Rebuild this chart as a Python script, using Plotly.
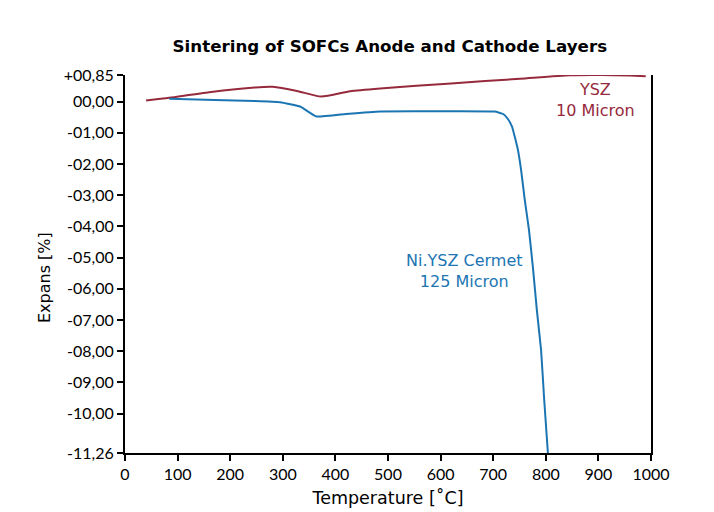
import plotly.graph_objects as go

# Dilatometer curves: temperature [°C] vs. expansion [%]
ysz_temp = [40, 84, 160, 247, 281, 327, 373, 428, 485, 620, 751, 846, 905, 960, 990]
ysz_expans = [0.03, 0.12, 0.30, 0.45, 0.47, 0.34, 0.16, 0.33, 0.42, 0.58, 0.73, 0.84, 0.85, 0.83, 0.81]

cermet_temp = [84, 170, 247, 295, 333, 364, 420, 485, 612, 703, 719, 728, 736, 741, 747,
               753, 760, 768, 776, 783, 791, 797, 804]
cermet_expans = [0.09, 0.05, 0.02, -0.02, -0.16, -0.48, -0.40, -0.32, -0.31, -0.32, -0.40,
                 -0.56, -0.81, -1.13, -1.55, -2.19, -3.15, -4.11, -5.40, -6.68, -7.96,
                 -9.56, -11.26]

y_tickvals = [0.85, 0, -1, -2, -3, -4, -5, -6, -7, -8, -9, -10, -11.26]
y_ticktext = ["+00,85", "00,00", "-01,00", "-02,00", "-03,00", "-04,00", "-05,00",
              "-06,00", "-07,00", "-08,00", "-09,00", "-10,00", "-11,26"]
x_tickvals = [0, 100, 200, 300, 400, 500, 600, 700, 800, 900, 1000]

red = "#962a3c"
blue = "#1b75b3"
tick_font = "Lato, 'Noto Sans', sans-serif"
label_font = "'DejaVu Sans', sans-serif"

fig = go.Figure()
fig.add_trace(go.Scatter(x=ysz_temp, y=ysz_expans, mode="lines",
                         line=dict(color=red, width=2, shape="spline", smoothing=0.6),
                         name="YSZ", showlegend=False))
fig.add_trace(go.Scatter(x=cermet_temp, y=cermet_expans, mode="lines",
                         line=dict(color=blue, width=2, shape="spline", smoothing=0.3),
                         name="Ni.YSZ Cermet", showlegend=False))

fig.add_annotation(x=895, y=0.05, text="YSZ<br>10 Micron", showarrow=False,
                   font=dict(color=red, size=16, family=label_font), align="center")
fig.add_annotation(x=646, y=-5.42, text="Ni.YSZ Cermet<br>125 Micron", showarrow=False,
                   font=dict(color=blue, size=16, family=label_font), align="center")

# y-axis title placed as a paper annotation
fig.add_annotation(xref="paper", yref="paper", x=-0.152, y=0.463, text="Expans [%]",
                   textangle=-90, showarrow=False, xanchor="center", yanchor="middle",
                   font=dict(size=16, family=label_font, color="black"))

fig.update_layout(
    width=714, height=512,
    margin=dict(l=125, r=63, t=75, b=59),
    paper_bgcolor="white", plot_bgcolor="white",
    title=dict(text="<b>Sintering of SOFCs Anode and Cathode Layers</b>",
               x=0.546, xanchor="center", y=0.91, yanchor="middle",
               font=dict(size=16.7, color="black", family=label_font)),
    font=dict(family=tick_font, size=16, color="black"),
)
fig.update_xaxes(range=[0, 1000], tickvals=x_tickvals, showgrid=False, zeroline=False,
                 showline=True, linecolor="black", linewidth=2, ticks="outside",
                 ticklen=6, tickwidth=1.5, tickcolor="black", automargin=False,
                 title=dict(text="Temperature [˚C]", font=dict(size=17.5, family=label_font),
                            standoff=10))
fig.update_yaxes(range=[-11.26, 0.85], tickvals=y_tickvals, ticktext=y_ticktext,
                 showgrid=False, zeroline=False, showline=True, mirror=True,
                 linecolor="black", linewidth=2, ticks="outside", ticklen=6,
                 tickwidth=1.5, tickcolor="black", automargin=False)

fig.write_html("out.html")
